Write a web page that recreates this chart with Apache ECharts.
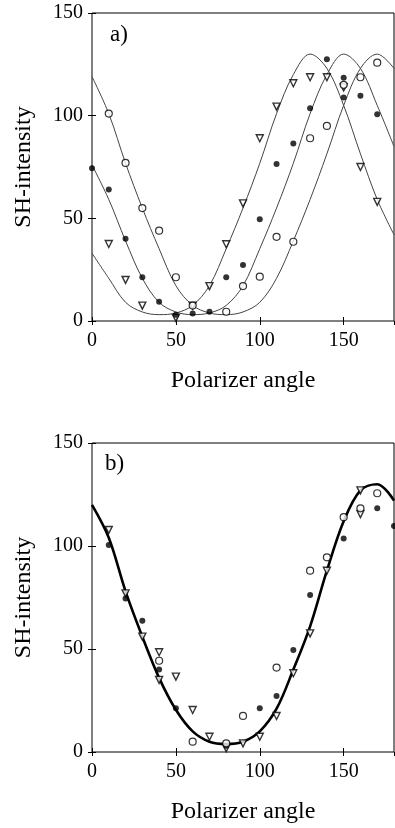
<!DOCTYPE html>
<html>
<head>
<meta charset="utf-8">
<script src="https://cdn.jsdelivr.net/npm/echarts@6/dist/echarts.min.js"></script>
<style>
  html, body { margin: 0; padding: 0; background: #fff; }
  #chart { width: 395px; height: 828px; }
</style>
</head>
<body>
<div id="chart"></div>
<script>
// polarizer angles for the fitted curves
const angles = [0, 10, 20, 30, 40, 50, 60, 70, 80, 90, 100, 110, 120, 130, 140, 150, 160, 170, 180]

// panel a) fitted curves
const fitTriA = [33, 20.8, 9.1, 4.4, 3.1, 3.9, 7.6, 17.2, 35.2, 55, 76.8, 101, 120, 130, 123, 105, 81.4, 59.2, 42]
const fitDotA = [76, 59.2, 39, 20.8, 9.1, 4.4, 3.1, 3.9, 7.6, 17.2, 35.2, 55, 76.8, 101, 120, 130, 123, 105, 85]
const fitCircA = [119, 101, 76.8, 55, 35.2, 17.2, 7.6, 3.9, 3.1, 4.4, 9.1, 20.8, 39, 59.2, 81.4, 105, 123, 130, 123]

// panel a) measured points [angle, intensity]
const triA = [[10, 37.5], [20, 20], [30, 7.5], [50, 1.5], [60, 7.5], [70, 17], [80, 37.4], [90, 57.3], [100, 89], [110, 104.4], [120, 115.8], [130, 118.7], [140, 118.7], [150, 113.8], [160, 75], [170, 58]]
const dotA = [[0, 74.4], [10, 64], [20, 40], [30, 21.3], [40, 9.4], [50, 3], [60, 3.7], [70, 4.5], [80, 21.3], [90, 27.3], [100, 49.5], [110, 76.5], [120, 86.5], [130, 103.6], [140, 127.5], [150, 118.5], [150, 108.8], [160, 109.7], [170, 100.7]]
const circA = [[10, 101], [20, 77], [30, 55], [40, 44], [50, 21.3], [60, 7.5], [80, 4.5], [90, 17], [100, 21.6], [110, 41], [120, 38.6], [130, 89], [140, 95], [150, 115], [160, 118.7], [170, 125.8]]

// panel b) fitted curve and points
const fitB = [120, 104, 78, 56, 36, 20.5, 10, 5, 3.9, 5, 10, 21, 40, 61, 88, 112, 127, 130, 122]
const circB = [[40, 44.3], [60, 5], [80, 4.2], [90, 17.5], [110, 41], [130, 88], [140, 94.5], [150, 114], [160, 118.3], [170, 125.6]]
const dotB = [[10, 100.5], [20, 74.5], [30, 63.7], [40, 40.1], [50, 21.2], [80, 3], [100, 21.2], [110, 27.2], [120, 49.5], [130, 76.2], [150, 103.7], [170, 118.3], [180, 109.7]]
const triB = [[10, 107.8], [20, 77], [30, 56], [40, 48.4], [40, 35], [50, 36.6], [60, 20.4], [70, 7.4], [80, 1.9], [90, 4.2], [100, 7.4], [110, 17.5], [120, 38.2], [130, 57.6], [140, 88], [160, 127], [160, 115.5]]

const xTicks = { min: 0, max: 180, interval: 50 }
const yTicks = { min: 0, max: 150, interval: 50 }

const serif = '"Liberation Serif", "DejaVu Serif", serif'
const ink = "#000"

const tick = { inside: true, length: 4, lineStyle: { color: ink, width: 1 } }

function xAxes(gridIndex) {
  return [
    {
      gridIndex, type: "value", ...xTicks, position: "bottom",
      axisLine: { show: false }, axisTick: tick, splitLine: { show: false },
      axisLabel: { color: ink, fontFamily: serif, fontSize: 20, margin: 10, showMaxLabel: false },
      name: "Polarizer angle", nameLocation: "middle", nameGap: 48,
      nameTextStyle: { color: ink, fontFamily: serif, fontSize: 24 },
    },
    {
      gridIndex, type: "value", ...xTicks, position: "top",
      axisLine: { show: false }, axisTick: tick, splitLine: { show: false },
      axisLabel: { show: false },
    },
  ]
}

function yAxes(gridIndex) {
  return [
    {
      gridIndex, type: "value", ...yTicks, position: "left",
      axisLine: { show: false }, axisTick: tick, splitLine: { show: false },
      axisLabel: { color: ink, fontFamily: serif, fontSize: 20, margin: 9 },
      name: "SH-intensity", nameLocation: "middle", nameGap: 56, nameRotate: 90,
      nameTextStyle: { color: ink, fontFamily: serif, fontSize: 24 },
    },
    {
      gridIndex, type: "value", ...yTicks, position: "right",
      axisLine: { show: false }, axisTick: tick, splitLine: { show: false },
      axisLabel: { show: false },
    },
  ]
}

function fitLine(values, axis, width, color) {
  return {
    type: "line", xAxisIndex: axis, yAxisIndex: axis,
    data: angles.map((a, i) => [a, values[i]]),
    smooth: 0.35, showSymbol: false, silent: true, z: 2,
    lineStyle: { color, width },
  }
}

function circles(data, axis) {
  return {
    type: "scatter", xAxisIndex: axis, yAxisIndex: axis, data, z: 3,
    symbol: "circle", symbolSize: 7,
    itemStyle: { color: "#fff", borderColor: ink, borderWidth: 1.2 },
  }
}

function dots(data, axis) {
  return {
    type: "scatter", xAxisIndex: axis, yAxisIndex: axis, data, z: 3,
    symbol: "circle", symbolSize: 6,
    itemStyle: { color: ink },
  }
}

function triangles(data, axis) {
  return {
    type: "scatter", xAxisIndex: axis, yAxisIndex: axis, data, z: 3,
    symbol: "triangle", symbolRotate: 180, symbolSize: 7,
    itemStyle: { color: "#fff", borderColor: ink, borderWidth: 1.4 },
  }
}

const chart = echarts.init(document.getElementById("chart"), null, { renderer: "canvas" })
chart.setOption({
  backgroundColor: "#fff",
  animation: false,
  title: [
    { text: "a)", left: 110, top: 23, padding: 0, textStyle: { fontFamily: serif, fontSize: 23, fontWeight: "normal", color: ink } },
    { text: "b)", left: 105, top: 452, padding: 0, textStyle: { fontFamily: serif, fontSize: 23, fontWeight: "normal", color: ink } },
  ],
  grid: [
    { left: 92, top: 13, width: 302, height: 308, show: true, borderColor: ink, borderWidth: 1, backgroundColor: "transparent" },
    { left: 92, top: 443, width: 302, height: 309, show: true, borderColor: ink, borderWidth: 1, backgroundColor: "transparent" },
  ],
  // axis indices: 0 = a) bottom/left, 1 = a) top/right, 2 = b) bottom/left, 3 = b) top/right
  xAxis: [...xAxes(0), ...xAxes(1)],
  yAxis: [...yAxes(0), ...yAxes(1)],
  series: [
    fitLine(fitTriA, 0, 1, "#444"),
    fitLine(fitDotA, 0, 1, "#444"),
    fitLine(fitCircA, 0, 1, "#444"),
    triangles(triA, 0),
    dots(dotA, 0),
    circles(circA, 0),
    fitLine(fitB, 2, 2.6, ink),
    triangles(triB, 2),
    dots(dotB, 2),
    circles(circB, 2),
  ],
})
</script>
</body>
</html>
